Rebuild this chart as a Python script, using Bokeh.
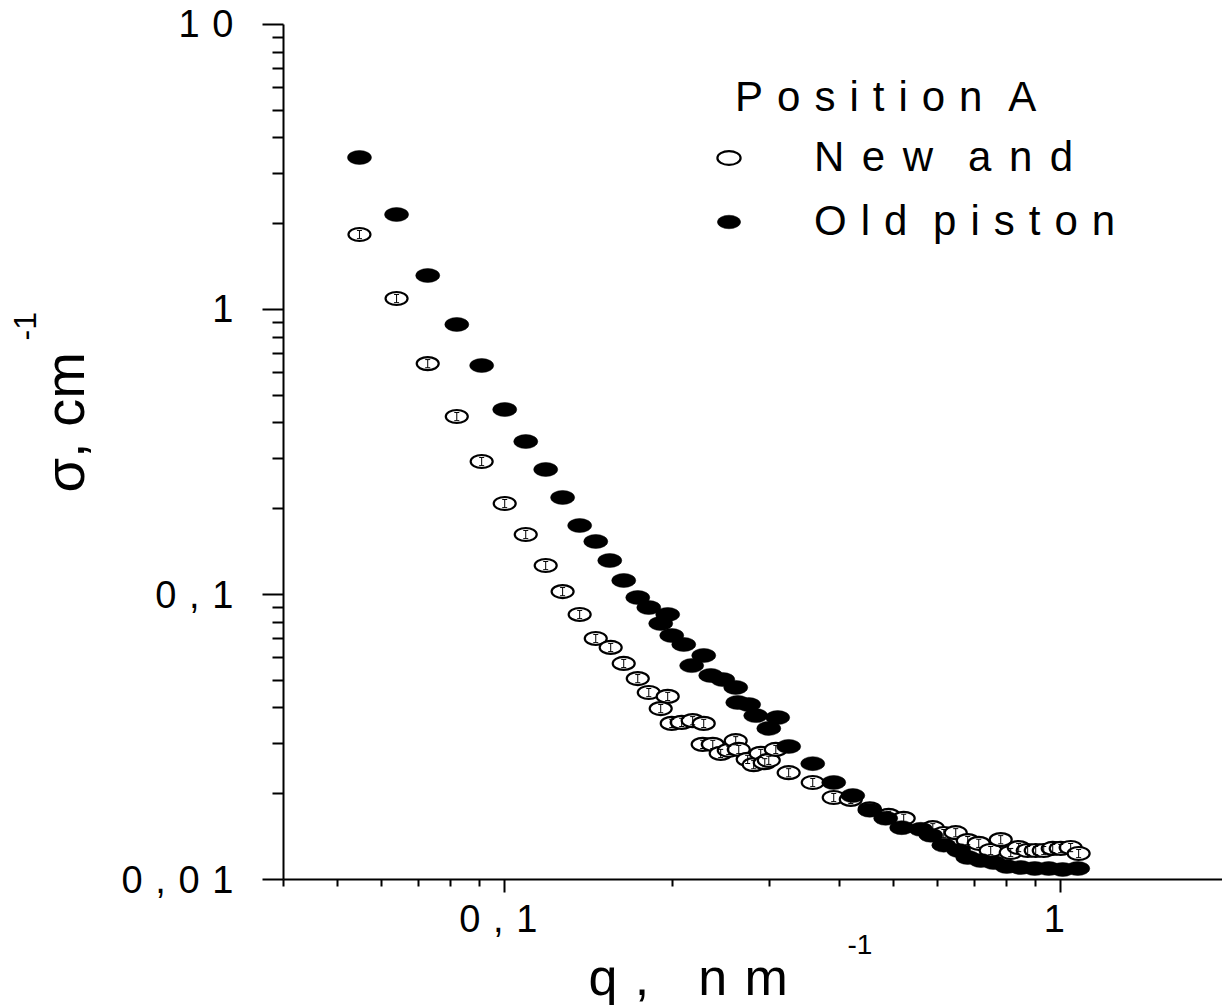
from bokeh.plotting import figure
from bokeh.models import FixedTicker, Legend, LegendItem, Label
from bokeh.embed import file_html
from bokeh.resources import INLINE

# ---------------- data ----------------
q_new = [0.0548, 0.0639, 0.0727, 0.0820, 0.0909, 0.100, 0.1091, 0.1185, 0.1271, 0.1364,
         0.1458, 0.1551, 0.1637, 0.1735, 0.1816, 0.1964, 0.1908, 0.1997, 0.2081, 0.2178,
         0.2280, 0.2270, 0.2367, 0.2446, 0.2529, 0.2603, 0.2636, 0.2735, 0.2804, 0.2887,
         0.2936, 0.2985, 0.3073, 0.3241, 0.3581, 0.3906, 0.4192, 0.4535, 0.4904, 0.5219,
         0.5888, 0.6162, 0.6474, 0.6804, 0.7121, 0.7483, 0.7800, 0.8130, 0.8403, 0.8721,
         0.9016, 0.9321, 0.9674, 1.000, 1.042, 1.077]
sigma_new = [1.833, 1.093, 0.646, 0.4212, 0.2929, 0.2086, 0.1624, 0.1264, 0.1024, 0.0851,
             0.0701, 0.0652, 0.0573, 0.0507, 0.0453, 0.0439, 0.0398, 0.0353, 0.0356, 0.0361,
             0.0353, 0.0298, 0.0298, 0.0277, 0.0284, 0.0307, 0.0286, 0.0264, 0.0253, 0.0277,
             0.0257, 0.0262, 0.0286, 0.0237, 0.0219, 0.0194, 0.0191, 0.0177, 0.0168, 0.0164,
             0.0152, 0.0145, 0.0146, 0.0137, 0.0134, 0.01264, 0.0138, 0.01244, 0.01295, 0.01264,
             0.01264, 0.01264, 0.01285, 0.01285, 0.01295, 0.01234]
new_rel_err = 0.033

q_old = [0.0548, 0.0639, 0.0727, 0.0820, 0.0909, 0.100, 0.1091, 0.1185, 0.1271, 0.1364,
         0.1458, 0.1545, 0.1637, 0.1735, 0.1816, 0.1964, 0.1908, 0.1997, 0.2099, 0.2280,
         0.2169, 0.2347, 0.2467, 0.2603, 0.2625, 0.2746, 0.2828, 0.3097, 0.2985, 0.3241,
         0.3581, 0.3906, 0.4227, 0.4535, 0.4844, 0.5176, 0.5602, 0.5839, 0.6162, 0.6554,
         0.6804, 0.7180, 0.7577, 0.7996, 0.8474, 0.8979, 0.9515, 1.008, 1.073]
sigma_old = [3.415, 2.154, 1.316, 0.886, 0.636, 0.4457, 0.3441, 0.2746, 0.2190, 0.1746,
             0.1535, 0.1316, 0.1120, 0.0976, 0.0900, 0.0851, 0.0791, 0.0718, 0.0668, 0.0611,
             0.0563, 0.0520, 0.0503, 0.0472, 0.0418, 0.0411, 0.0376, 0.0370, 0.0339, 0.0293,
             0.0255, 0.0219, 0.0197, 0.0175, 0.0164, 0.0152, 0.0150, 0.0143, 0.0132, 0.01264,
             0.01195, 0.01166, 0.01147, 0.01111, 0.01102, 0.01093, 0.01093, 0.01084, 0.01093]

# axis extents: the drawn axes run from q = 0.04 and sigma = 0.01 ... 10
x_axis_min = 0.04
y_axis_min, y_axis_max = 0.01, 10
x_major = [0.1, 1]
x_minor = [0.04, 0.05, 0.06, 0.07, 0.08, 0.09, 0.2, 0.3, 0.4, 0.5, 0.6, 0.7, 0.8, 0.9]
y_major = [0.01, 0.1, 1, 10]
y_minor = [0.02, 0.03, 0.04, 0.05, 0.06, 0.07, 0.08, 0.09,
           0.2, 0.3, 0.4, 0.5, 0.6, 0.7, 0.8, 0.9,
           2, 3, 4, 5, 6, 7, 8, 9]
x_tick_text = ["0,1", "1"]
y_tick_text = ["0,01", "0,1", "1", "10"]

legend_title = "Position A"
label_new = "New and"
label_old = "Old piston"
y_title = "\u03c3, cm"
unit_sup = "-1"

FONT = "Liberation Sans"
NB = "\u00a0"
TS = "\u2004"
HS = "\u200a"


def spaced(s, gap=TS, word=TS + NB):
    return word.join(gap.join(w) for w in s.split(" "))


# ---------------- figure ----------------
# the whole canvas is the plot frame; the axes are pinned to q=0.04 and sigma=0.01
p = figure(width=1222, height=1005, x_axis_type="log", y_axis_type="log",
           x_range=(0.012393, 1.9541), y_range=(0.0036136, 12.139),
           output_backend="svg", toolbar_location=None,
           min_border_left=0, min_border_right=0, min_border_top=0, min_border_bottom=0)
p.outline_line_color = None
p.xgrid.visible = False
p.ygrid.visible = False
p.background_fill_color = "white"
p.border_fill_color = "white"

xa = p.xaxis[0]
xa.ticker = FixedTicker(ticks=x_major, minor_ticks=x_minor)
xa.major_label_overrides = {v: spaced(t) + TS for v, t in zip(x_major, x_tick_text)}
xa.fixed_location = y_axis_min
xa.bounds = (x_axis_min, 1.9541)
ya = p.yaxis[0]
ya.ticker = FixedTicker(ticks=y_major, minor_ticks=y_minor)
ya.major_label_overrides = {v: spaced(t) for v, t in zip(y_major, y_tick_text)}
ya.fixed_location = x_axis_min
ya.bounds = (y_axis_min, y_axis_max)

for ax in (xa, ya):
    ax.axis_line_width = 2
    ax.axis_line_color = "black"
    ax.major_tick_line_width = 2
    ax.minor_tick_line_width = 2
    ax.major_tick_line_color = "black"
    ax.minor_tick_line_color = "black"
    ax.major_tick_in = 0
    ax.minor_tick_in = 0
    ax.major_label_text_font = FONT
    ax.major_label_text_font_size = "38px"
    ax.major_label_text_color = "black"
xa.major_tick_out = 13
xa.minor_tick_out = 7
xa.major_label_standoff = 5
ya.major_tick_out = 21
ya.minor_tick_out = 11
ya.major_label_standoff = 29

# ---------------- data marks ----------------
r_new = p.ellipse(x=q_new, y=sigma_new, width=22, height=13,
                  width_units="screen", height_units="screen",
                  fill_color="white", line_color="black", line_width=2.2)
lo = [s * (1 - new_rel_err) for s in sigma_new]
hi = [s * (1 + new_rel_err) for s in sigma_new]
p.segment(x0=q_new, y0=lo, x1=q_new, y1=hi, line_color="black", line_width=1)
p.scatter(x=q_new + q_new, y=lo + hi, marker="dash", size=5,
          line_color="black", line_width=1)
r_old = p.ellipse(x=q_old, y=sigma_old, width=24, height=14,
                  width_units="screen", height_units="screen",
                  fill_color="black", line_color="black", line_width=0.5)

# ---------------- legend ----------------
legend = Legend(items=[LegendItem(label=spaced(label_new, gap=TS + HS, word=TS + TS + HS + HS),
                                  renderers=[r_new]),
                       LegendItem(label=spaced(label_old), renderers=[r_old])],
                title="\u2002" + spaced(legend_title),
                location=(714, 760), orientation="vertical",
                border_line_color=None, background_fill_alpha=0,
                padding=0, margin=0, spacing=16, label_standoff=71,
                glyph_width=29, glyph_height=29,
                label_text_font=FONT, label_text_font_size="42px", label_text_color="black",
                title_text_font=FONT, title_text_font_size="42px", title_text_color="black",
                title_text_font_style="normal", title_standoff=12)
p.add_layout(legend)

# ---------------- axis titles ----------------
x_title_text = "q" + TS + "," + TS + NB + TS + "n" + TS + "m"
p.add_layout(Label(x=588, y=29, x_units="screen", y_units="screen",
                   text=x_title_text, text_font=FONT, text_font_size="52px", text_color="black",
                   text_align="left", text_baseline="alphabetic"))
p.add_layout(Label(x=847, y=61, x_units="screen", y_units="screen",
                   text=unit_sup, text_font=FONT, text_font_size="28px", text_color="black",
                   text_align="left", text_baseline="alphabetic"))
p.add_layout(Label(x=64, y=513, x_units="screen", y_units="screen",
                   text=y_title, angle=1.5707963, text_font=FONT, text_font_size="56px",
                   text_color="black", text_align="left", text_baseline="alphabetic"))
p.add_layout(Label(x=24, y=665, x_units="screen", y_units="screen",
                   text=unit_sup, angle=1.5707963, text_font=FONT, text_font_size="32px",
                   text_color="black", text_align="left", text_baseline="alphabetic"))

open("out.html", "w").write(file_html(p, INLINE))
